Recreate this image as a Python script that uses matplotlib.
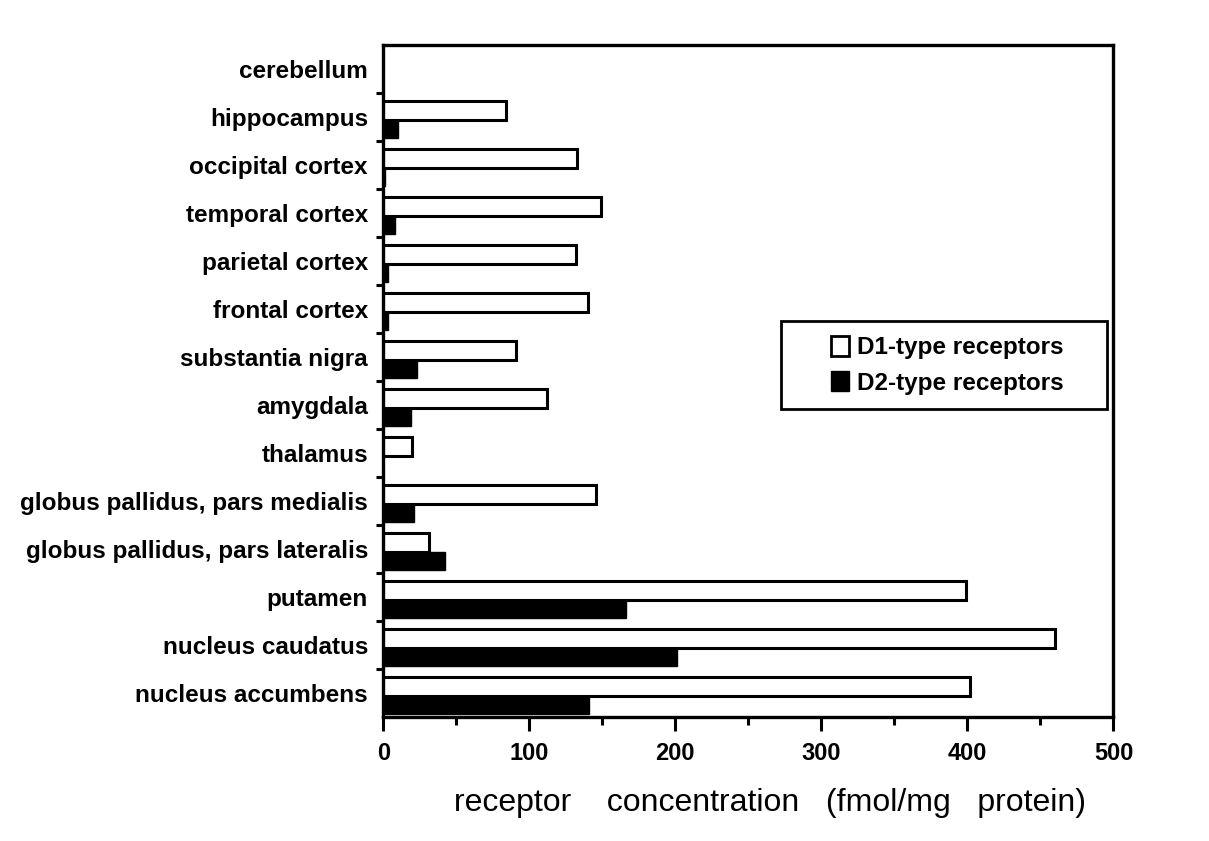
import matplotlib

matplotlib.use("Agg")

import matplotlib.pyplot as plt
import numpy as np
from matplotlib.legend_handler import HandlerPatch
from matplotlib.patches import Patch, Rectangle
from matplotlib.ticker import MultipleLocator

plt.rcParams["font.family"] = ["Liberation Sans", "DejaVu Sans"]

regions = [
    "cerebellum",
    "hippocampus",
    "occipital cortex",
    "temporal cortex",
    "parietal cortex",
    "frontal cortex",
    "substantia nigra",
    "amygdala",
    "thalamus",
    "globus pallidus, pars medialis",
    "globus pallidus, pars lateralis",
    "putamen",
    "nucleus caudatus",
    "nucleus accumbens",
]
d1_values = [0, 84, 133, 149, 132, 140, 91, 112, 20, 146, 31, 399, 460, 402]
d2_values = [0, 10, 1.5, 8, 3.5, 3.5, 23, 19, 0, 21, 42, 166, 201, 141]
x_ticks = [0, 100, 200, 300, 400, 500]


def right_square(legend, orig_handle, xdescent, ydescent, width, height, fontsize):
    # small square pushed to the right end of the handle box
    side = 0.75 * fontsize
    return Rectangle((-xdescent + width - side, -ydescent), side, height)


fig = plt.figure(figsize=(12.09, 8.41), dpi=100)
fig.patch.set_facecolor("white")
ax = fig.add_axes([0.317, 0.147, 0.604, 0.799])

y = np.arange(len(regions))
bar_h = 0.39
ax.barh(y - 0.15, d1_values, height=bar_h, color="white", edgecolor="black",
        linewidth=2.2, align="center")
ax.barh(y + 0.24, d2_values, height=bar_h, color="black", edgecolor="black",
        linewidth=1.0, align="center")

ax.set_xlim(0, 500)
ax.set_ylim(len(regions) - 0.5, -0.5)
ax.set_xticks(x_ticks)
ax.xaxis.set_minor_locator(MultipleLocator(50))
ax.set_xticklabels([str(t) for t in x_ticks], fontsize=17, fontweight="bold")

# labels at category centres, tick marks at the boundaries
ax.set_yticks(y)
ax.set_yticklabels(regions, fontsize=17.5, fontweight="bold")
ax.tick_params(axis="y", which="major", length=0, pad=11)
ax.set_yticks(np.arange(len(regions) - 1) + 0.5, minor=True)
ax.tick_params(axis="y", which="minor", length=5, width=2.2, direction="out")
ax.tick_params(axis="x", which="major", length=10, width=2.2, pad=8)
ax.tick_params(axis="x", which="minor", length=6, width=2.2)

for side in ["top", "right", "bottom", "left"]:
    ax.spines[side].set_linewidth(2.4)

ax.set_xlabel("receptor    concentration   (fmol/mg   protein)", fontsize=23)
ax.xaxis.set_label_coords(0.53, -0.105)

handles = [
    Patch(facecolor="white", edgecolor="black", linewidth=2.0, label="D1-type receptors"),
    Patch(facecolor="black", edgecolor="black", label="D2-type receptors"),
]
leg = ax.legend(handles=handles, loc="upper left",
                bbox_to_anchor=(0.545, 0.590, 0.446, 0.0), mode="expand",
                prop={"size": 17.5, "weight": "bold"}, frameon=True,
                fancybox=False, edgecolor="black",
                handler_map={Patch: HandlerPatch(patch_func=right_square)},
                handlelength=2.2, handleheight=0.9, handletextpad=0.3,
                borderpad=0.6, labelspacing=0.5, borderaxespad=0)
leg.get_frame().set_linewidth(2.0)
leg.get_frame().set_alpha(1)

fig.savefig("out.png", dpi=100, facecolor="white")
plt.close(fig)
